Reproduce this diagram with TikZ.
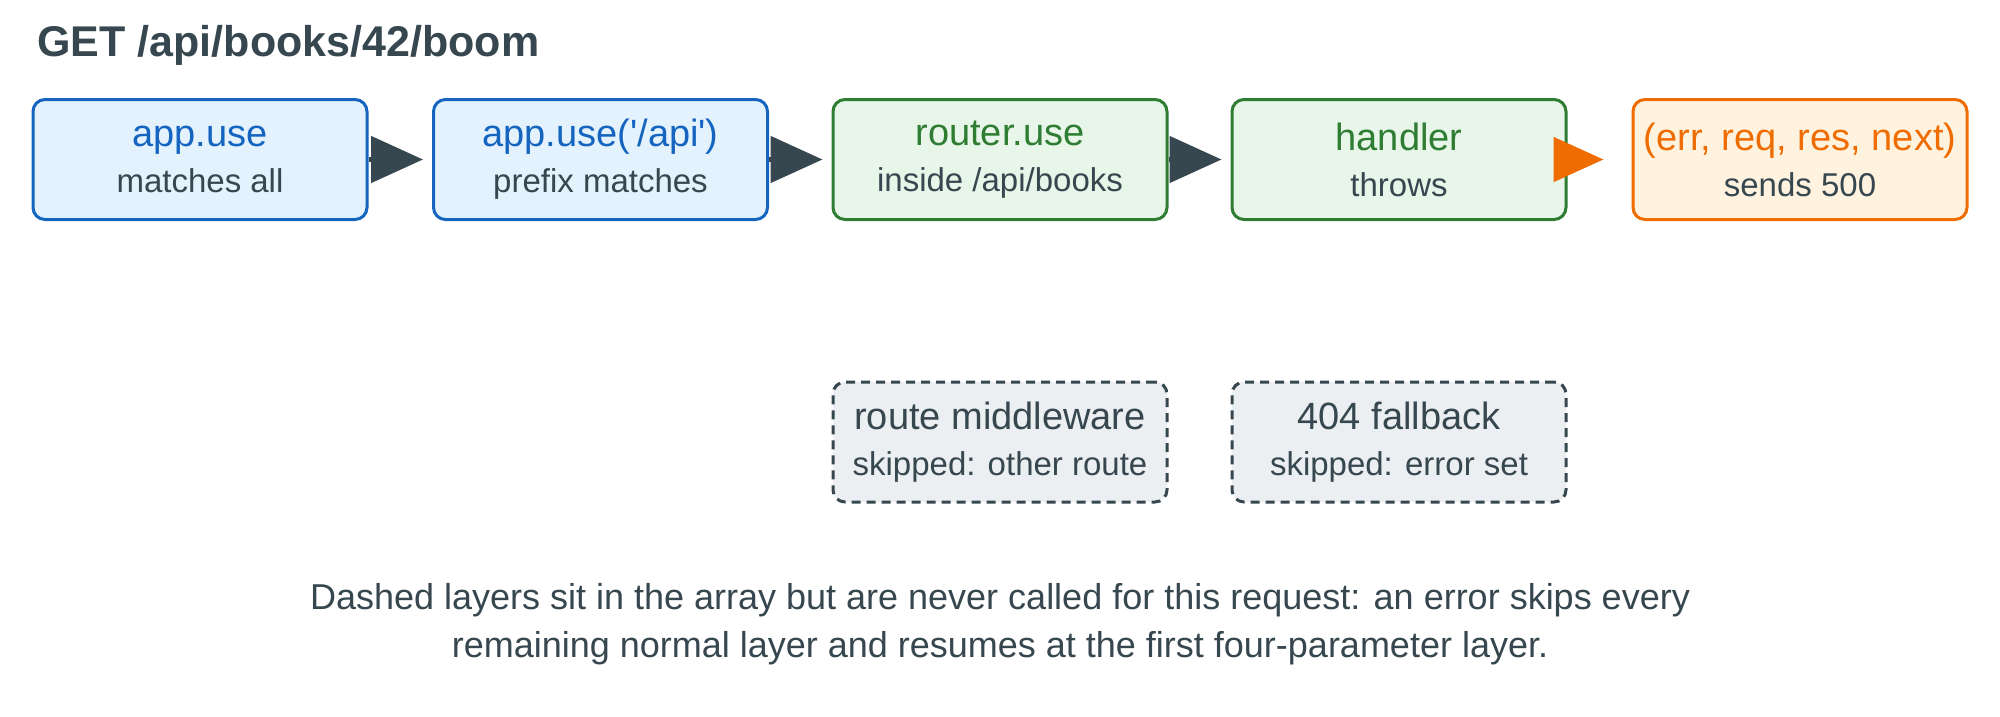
\documentclass[tikz,border=0pt]{standalone}
\usepackage{fontspec}
\setmainfont{Liberation Sans}
\usetikzlibrary{arrows.meta}
\definecolor{ink}{HTML}{37474F}
\definecolor{bB}{HTML}{1565C0}\definecolor{bF}{HTML}{E3F2FD}
\definecolor{gB}{HTML}{2E7D32}\definecolor{gF}{HTML}{E8F5E9}
\definecolor{oB}{HTML}{EF6C00}\definecolor{oF}{HTML}{FFF3E0}
\definecolor{sF}{HTML}{ECEFF1}
\begin{document}
\begin{tikzpicture}[x=1pt,y=-1pt,
 box/.style={draw,line width=3pt,rounded corners=12pt,minimum width=334pt,minimum height=120pt,inner sep=0pt,align=center,font=\fontsize{33}{46}\selectfont},
 blue/.style={box,draw=bB,fill=bF},
 green/.style={box,draw=gB,fill=gF},
 orange/.style={box,draw=oB,fill=oF},
 skip/.style={box,draw=ink,fill=sF,dash pattern=on 9pt off 6pt},
 arr/.style={draw=ink,line width=5pt,-{Triangle[length=52pt,width=46pt]},shorten >=9pt},
 oarr/.style={draw=oB,line width=5pt,-{Triangle[length=50pt,width=44pt]},shorten >=28pt,shorten <=-2pt}]
\useasboundingbox (0,0) rectangle (2000,717);
\newcommand{\tx}[3]{{\fontsize{38}{46}\selectfont\color{#1}#2}\\{\color{ink}#3}}
\node[anchor=base west,font=\fontsize{43}{48}\selectfont\bfseries,text=ink] (title) at (34,57) {GET /api/books/42/boom};
\node[blue] (a) at (200,159.5) {\tx{bB}{app.use}{matches all}};
\node[blue] (b) at (600.5,159.5) {\tx{bB}{app.use(\textquotesingle/api\textquotesingle)}{prefix matches}};
\node[green] (c) at (1000,159.5) {\tx{gB}{router.use}{inside /api/books}};
\node[green] (d) at (1399,159.5) {\tx{gB}{handler}{throws}};
\node[orange] (e) at (1800,159.5) {\tx{oB}{(err, req, res, next)}{sends 500}};
\node[skip] (f) at (1000,442) {\tx{ink}{route middleware}{skipped: other route}};
\node[skip] (g) at (1399,442) {\tx{ink}{404 fallback}{skipped: error set}};
\draw[arr] (a) -- (b);
\draw[arr] (b) -- (c);
\draw[arr] (c) -- (d);
\draw[oarr] (d.east) -- (e.west);
\node[align=center,text=ink,font=\fontsize{36}{48}\selectfont] (cap) at (1000,624) {Dashed layers sit in the array but are never called for this request: an error skips every\\remaining normal layer and resumes at the first four-parameter layer.};
\end{tikzpicture}
\end{document}
